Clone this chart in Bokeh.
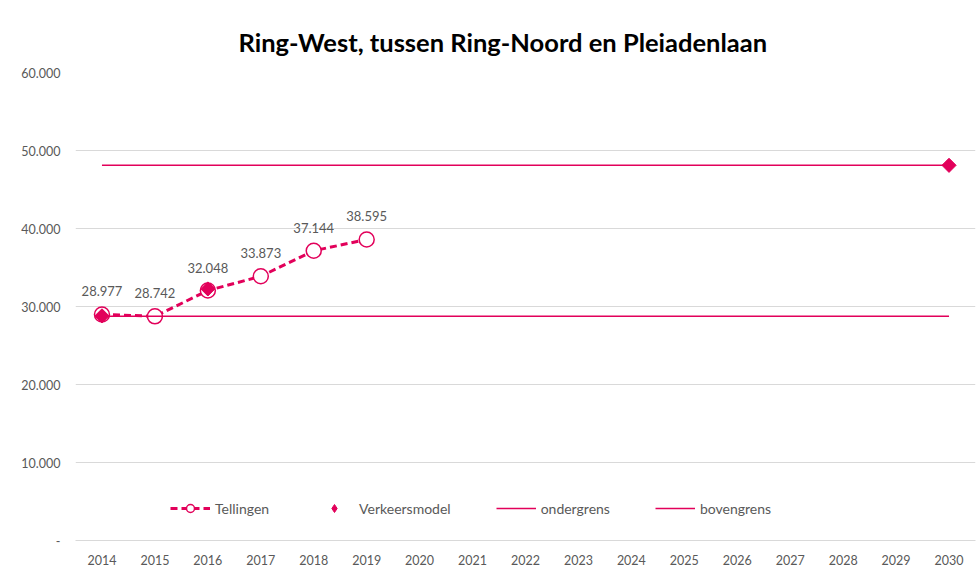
import numpy as np
from bokeh.plotting import figure
from bokeh.models import ColumnDataSource, FixedTicker, Legend, LegendItem, Title, Range1d, FactorRange
from bokeh.core.properties import value
from bokeh.embed import file_html
from bokeh.resources import INLINE

years = [str(y) for y in range(2014, 2031)]

tel_years = ["2014", "2015", "2016", "2017", "2018", "2019"]
tel_values = [28977, 28742, 32048, 33873, 37144, 38595]
tel_labels = ["28.977", "28.742", "32.048", "33.873", "37.144", "38.595"]

vm_years = ["2014", "2016", "2030"]
vm_values = [28800, 32250, 48100]

grens_years = ["2014", "2030"]
ondergrens = [28750, 28750]
bovengrens = [48100, 48100]

y_ticks = [0, 10000, 20000, 30000, 40000, 50000, 60000]
y_tick_labels = ["-", "10.000", "20.000", "30.000", "40.000", "50.000", "60.000"]

COL = "#E2005A"
GRAY = "#595959"
FONT = "Lato"

p = figure(width=978, height=569, x_range=FactorRange(factors=years),
           y_range=Range1d(0, 60000), output_backend="svg", toolbar_location=None,
           min_border_left=75, min_border_right=3, min_border_top=72, min_border_bottom=29)
p.title = None
p.add_layout(Title(text="Ring-West, tussen Ring-Noord en Pleiadenlaan", text_font=FONT,
                   text_font_size="25.5px", text_font_style="bold", text_color="#000000",
                   align="left", offset=163, standoff=31), "above")
p.outline_line_color = None
p.background_fill_color = "white"
p.border_fill_color = "white"

p.xgrid.grid_line_color = None
p.ygrid.grid_line_color = "#d9d9d9"
p.ygrid.grid_line_width = 1

p.yaxis.ticker = FixedTicker(ticks=y_ticks)
p.yaxis.major_label_overrides = {t: l for t, l in zip(y_ticks, y_tick_labels)}
p.yaxis.axis_line_color = None
p.yaxis.major_tick_line_color = None
p.yaxis.major_tick_out = 0
p.yaxis.major_tick_in = 0
p.yaxis.minor_tick_line_color = None
p.yaxis.major_label_standoff = 15
p.yaxis.major_label_text_font = FONT
p.yaxis.major_label_text_font_size = "12.5px"
p.yaxis.major_label_text_color = GRAY

p.xaxis.axis_line_color = "#d9d9d9"
p.xaxis.major_tick_line_color = None
p.xaxis.major_tick_out = 0
p.xaxis.major_tick_in = 0
p.xaxis.major_label_standoff = 14
p.xaxis.major_label_text_font = FONT
p.xaxis.major_label_text_font_size = "12.5px"
p.xaxis.major_label_text_color = GRAY

src_t = ColumnDataSource(dict(x=tel_years, y=tel_values, lab=tel_labels))
r_tl = p.line("x", "y", source=src_t, line_color=COL, line_width=3, line_dash="7 4")
r_tc = p.scatter("x", "y", source=src_t, marker="circle", size=15, fill_color="white",
                 line_color=COL, line_width=1.5)

src_v = ColumnDataSource(dict(x=vm_years, y=vm_values))
r_v = p.scatter("x", "y", source=src_v, marker="square", angle=np.pi / 4, size=10,
                fill_color=COL, line_color=COL)
# hidden legend proxy so the legend shows a diamond like the reference
r_v_leg = p.scatter("x", "y", source=src_v, marker="diamond", size=13,
                    fill_color=COL, line_color=COL, visible=False)

r_o = p.line(grens_years, ondergrens, line_color=COL, line_width=1.5)
r_b = p.line(grens_years, bovengrens, line_color=COL, line_width=1.5)

p.text("x", "y", text="lab", source=src_t, text_align="center", text_baseline="middle",
       y_offset=-23, text_font=value(FONT), text_font_size="13px", text_color=GRAY)

legend = Legend(items=[
    LegendItem(label="Tellingen", renderers=[r_tl, r_tc]),
    LegendItem(label="Verkeersmodel", renderers=[r_v_leg]),
    LegendItem(label="ondergrens", renderers=[r_o]),
    LegendItem(label="bovengrens", renderers=[r_b]),
], orientation="horizontal", location=(95, 22), border_line_color=None,
   background_fill_alpha=0, glyph_width=40, label_standoff=5, spacing=45,
   label_text_font=FONT, label_text_font_size="14px", label_text_color=GRAY,
   inactive_fill_alpha=0, padding=0, margin=0)
p.add_layout(legend, "center")

open("out.html", "w").write(file_html(p, INLINE))
